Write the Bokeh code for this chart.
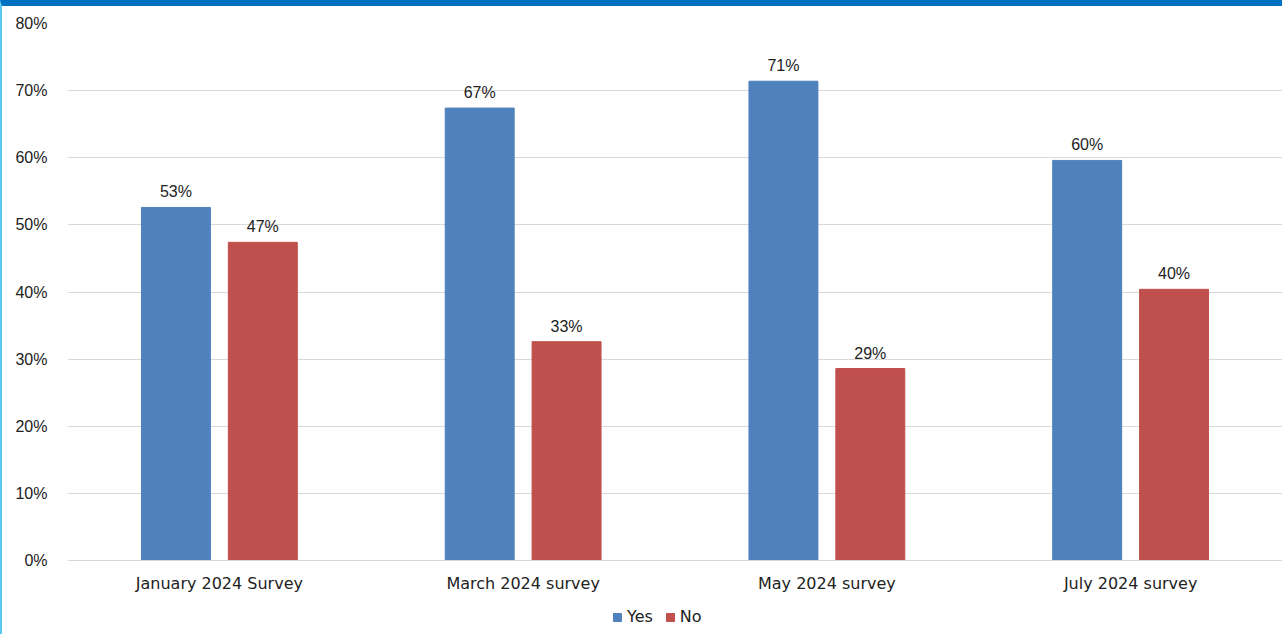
import math
from bokeh.plotting import figure
from bokeh.models import ColumnDataSource, LabelSet, Legend, LegendItem, FixedTicker, CustomJSTickFormatter, Range1d
from bokeh.core.properties import value
from bokeh.transform import dodge
from bokeh.embed import file_html
from bokeh.resources import INLINE

categories = ["January 2024 Survey", "March 2024 survey", "May 2024 survey", "July 2024 survey"]
yes_values = [52.6, 67.4, 71.4, 59.6]
no_values = [47.4, 32.6, 28.6, 40.4]
y_ticks = [0, 10, 20, 30, 40, 50, 60, 70, 80]

def pct(v):
    return "%d%%" % math.floor(v + 0.5)

src = ColumnDataSource(dict(
    cat=categories,
    yes=yes_values,
    no=no_values,
    yes_lab=[pct(v) for v in yes_values],
    no_lab=[pct(v) for v in no_values],
))

W, H = 1282, 634
TOP_PX, ZERO_PX = 17, 554  # canvas px of 80% and 0%
frame_h = H - TOP_PX
y_start = 80 - frame_h * 80.0 / (ZERO_PX - TOP_PX)

p = figure(x_range=categories, y_range=Range1d(y_start, 80), width=W, height=H,
           output_backend="svg", toolbar_location=None,
           min_border_left=65, min_border_right=2, min_border_top=TOP_PX, min_border_bottom=0)
p.styles = {"border-top": "6px solid #0070C0", "border-left": "2px solid #5BC8F0"}
p.outline_line_color = None
p.background_fill_color = "white"
p.border_fill_color = "white"

bw = 0.227
r_yes = p.vbar(x=dodge("cat", -0.143, range=p.x_range), top="yes", width=bw, source=src,
               fill_color="#4F81BD", line_color="#4F81BD")
r_no = p.vbar(x=dodge("cat", 0.143, range=p.x_range), top="no", width=bw, source=src,
              fill_color="#C0504D", line_color="#C0504D")

for col, lab, off in (("yes", "yes_lab", -0.143), ("no", "no_lab", 0.143)):
    ls = LabelSet(x=dodge("cat", off, range=p.x_range), y=col, text=lab, source=src,
                  text_align="center", text_baseline="bottom", y_offset=7,
                  text_font=value("Liberation Sans"), text_font_size="16px", text_color="#222222")
    p.add_layout(ls)

p.yaxis.ticker = FixedTicker(ticks=y_ticks)
p.yaxis.formatter = CustomJSTickFormatter(code="return tick + '%';")
p.yaxis.axis_line_color = None
p.yaxis.major_tick_line_color = None
p.yaxis.minor_tick_line_color = None
p.yaxis.major_label_standoff = 14
p.yaxis.major_label_text_font = "Liberation Sans"
p.yaxis.major_label_text_font_size = "16px"
p.yaxis.major_label_text_color = "#222222"

p.xaxis.fixed_location = 0
p.xaxis.axis_line_color = "#D9D9D9"
p.xaxis.major_tick_line_color = None
p.xaxis.minor_tick_line_color = None
p.xaxis.major_label_standoff = 7
p.xaxis.major_label_text_font = "DejaVu Sans"
p.xaxis.major_label_text_font_size = "16px"
p.xaxis.major_label_text_color = "#222222"
p.xgrid.grid_line_color = None
p.ygrid.grid_line_color = "#D9D9D9"

legend = Legend(items=[LegendItem(label="Yes", renderers=[r_yes]),
                       LegendItem(label="No", renderers=[r_no])],
                orientation="horizontal", location=(545, 14),
                label_text_font="DejaVu Sans", label_text_font_size="16px",
                label_text_color="#222222", glyph_width=10, glyph_height=10,
                spacing=12, label_standoff=5, padding=0, margin=0,
                border_line_color=None, background_fill_alpha=0)
p.add_layout(legend)

open("out.html", "w").write(file_html(p, INLINE))
